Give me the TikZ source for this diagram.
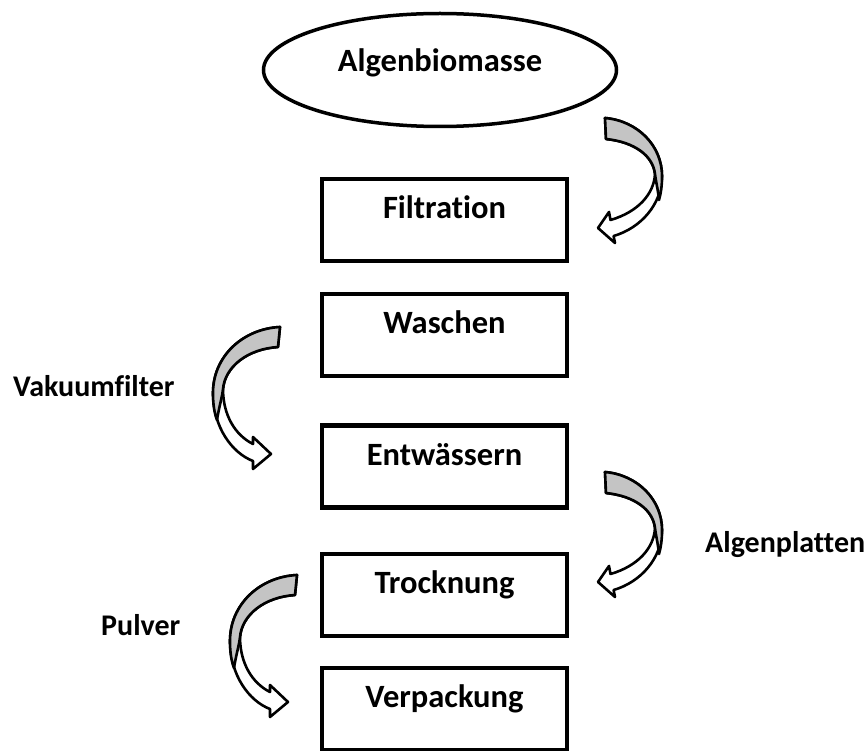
\documentclass[tikz,border=0pt]{standalone}
\usepackage{fontspec}
\setmainfont{Carlito}[Ligatures={NoCommon}]
\usetikzlibrary{shapes.geometric}
\definecolor{crescent}{RGB}{196,196,196}
\tikzset{
  procbox/.style={draw, line width=4.5pt, rectangle, minimum width=245pt, minimum height=82pt,
    inner sep=0pt, text height=0pt, text depth=3pt, font=\fontsize{32.5}{38}\selectfont\bfseries},
  startell/.style={draw, line width=3.5pt, ellipse, minimum width=353pt, minimum height=113pt,
    inner sep=0pt, text height=4pt, text depth=0pt, font=\fontsize{32.5}{38}\selectfont\bfseries},
  sidelbl/.style={anchor=base west, inner sep=0pt, font=\fontsize{30}{36}\selectfont\bfseries},
  arrline/.style={draw=black, line width=2.6pt, line join=round},
  rarr/.pic={
    \path[arrline, fill=white] (0,0) .. controls (33,3) and (57,28) .. (57,58)
      .. controls (57,86) and (36,110) .. (8.6,118) -- (10,125) -- (-7,110) -- (4,94) -- (5.5,102)
      .. controls (33,94) and (49,76) .. (50,56) .. controls (48,38) and (30,24) .. (1,21) -- cycle;
    \path[arrline, fill=crescent] (0,0) .. controls (33,3) and (57,28) .. (57,58)
      .. controls (57,68) and (56,75) .. (54,82) .. controls (53,72) and (51,64) .. (50,56)
      .. controls (48,38) and (30,24) .. (1,21) -- cycle;
  },
  larr/.pic={
    \path[arrline, fill=white] (0,0) .. controls (38,2) and (67,30) .. (67,66)
      .. controls (67,100) and (48,126) .. (27,134) -- (27,142) -- (9,127) -- (27,110) -- (27,117)
      .. controls (45,108) and (57,88) .. (57,62) .. controls (55,40) and (33,22) .. (2,20) -- cycle;
    \path[arrline, fill=crescent] (0,0) .. controls (38,2) and (67,30) .. (67,66)
      .. controls (67,76) and (66,85) .. (63,93) .. controls (61,80) and (58,71) .. (57,62)
      .. controls (55,40) and (33,22) .. (2,20) -- cycle;
  }
}
\begin{document}
\begin{tikzpicture}[x=1pt, y=-1pt]
  \useasboundingbox (0,0) rectangle (866,751);
  \node[startell] (bio) at (440,70) {Algenbiomasse};
  \node[procbox] (filt) at (444.5,220) {Filtration};
  \node[procbox] (wasch) at (444.5,335) {Waschen};
  \node[procbox] (entw) at (444.5,466.5) {Entwässern};
  \node[procbox] (trock) at (444.5,595) {Trocknung};
  \node[procbox] (verp) at (444.5,709) {Verpackung};
  \node[sidelbl] (vak) at (13,396) {Vakuumfilter};
  \node[sidelbl] (plat) at (705,552) {Algenplatten};
  \node[sidelbl] (pulv) at (101,635) {Pulver};
  \pic at (605,118) {rarr};
  \pic at (605,472) {rarr};
  \pic[xscale=-1] at (280,327) {larr};
  \pic[xscale=-1] at (297,575) {larr};
\end{tikzpicture}
\end{document}
